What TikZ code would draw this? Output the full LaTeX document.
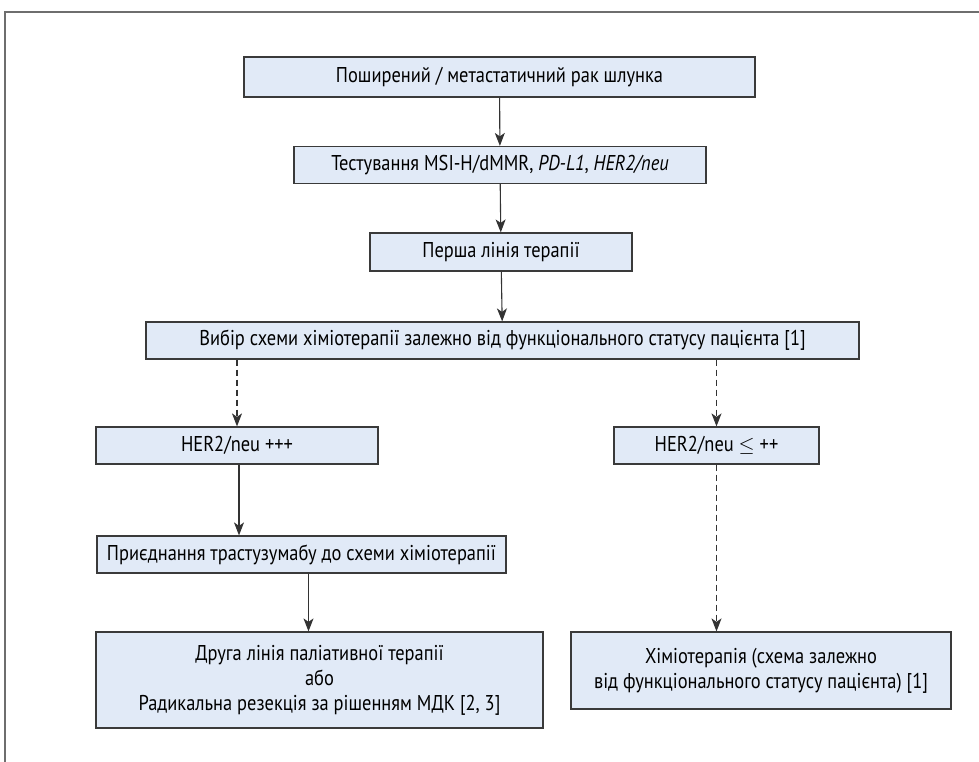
\documentclass[tikz,border=0pt]{standalone}
\usepackage{fontspec}
\setmainfont{PT Sans}[FakeStretch=0.86]
\usetikzlibrary{arrows.meta}
\definecolor{boxfill}{HTML}{E1EAF7}
\definecolor{boxline}{HTML}{3A3A3A}
\definecolor{arrline}{HTML}{333333}
\definecolor{frameline}{HTML}{6E6E6E}

\begin{document}
\begin{tikzpicture}[x=1bp, y=-1bp,
  box/.style={draw=boxline, fill=boxfill, line width=1.2bp, minimum height=37bp,
    inner sep=0pt, align=center, font=\fontsize{21.5}{25}\selectfont},
  arr/.style={draw=arrline, line width=1.1bp, -{Stealth[length=13bp,width=10bp,inset=3.5bp]}},
  darr/.style={arr, dash pattern=on 6bp off 4bp}]
  \useasboundingbox (0,0) rectangle (979,762);
  \draw[frameline, line width=1.5bp] (979,12) -- (5,12) -- (5,762);

  % main line
  \node[box, minimum width=511bp, minimum height=40bp] (start) at (499.5,77) {Поширений / метастатичний рак шлунка};
  \node[box, minimum width=412bp] (test) at (500,165) {Тестування MSI-H/dMMR, \textit{PD-L1}, \textit{HER2/neu}};
  \node[box, minimum width=262bp, minimum height=38bp] (first) at (501,252) {Перша лінія терапії};
  \node[box, minimum width=713bp] (choice) at (502.5,340.5) {Вибір схеми хіміотерапії залежно від функціонального статусу пацієнта [1]};

  % branches
  \node[box, minimum width=282bp] (herpos) at (237,445.5) {HER2/neu +++};
  \node[box, minimum width=205bp] (herneg) at (716.5,445.5) {HER2/neu \ensuremath{\leq} ++};
  \node[box, minimum width=409bp] (trast) at (301.5,554.5) {Приєднання трастузумабу до схеми хіміотерапії};
  \node[box, minimum width=447bp, minimum height=96bp] (second) at (319.5,680) {Друга лінія паліативної терапії\\або\\Радикальна резекція за рішенням МДК [2, 3]};
  \node[box, minimum width=380bp, minimum height=77bp] (chemo) at (761,670.5) {Хіміотерапія (схема залежно\\від функціонального статусу пацієнта) [1]};

  \foreach \a/\b in {start/test, test/first, first/choice}
    \draw[arr] (\a) -- (\b);
  \draw[darr] (herpos.north |- choice.south) -- (herpos.north);
  \draw[darr] (herneg.north |- choice.south) -- (herneg.north);
  \draw[arr] ([xshift=2bp]herpos.south) -- ([xshift=2bp]herpos.south |- trast.north);
  \draw[arr] ([xshift=7bp]trast.south) -- ([xshift=7bp]trast.south |- second.north);
  \draw[darr] (herneg.south) -- (herneg.south |- chemo.north);
\end{tikzpicture}
\end{document}
